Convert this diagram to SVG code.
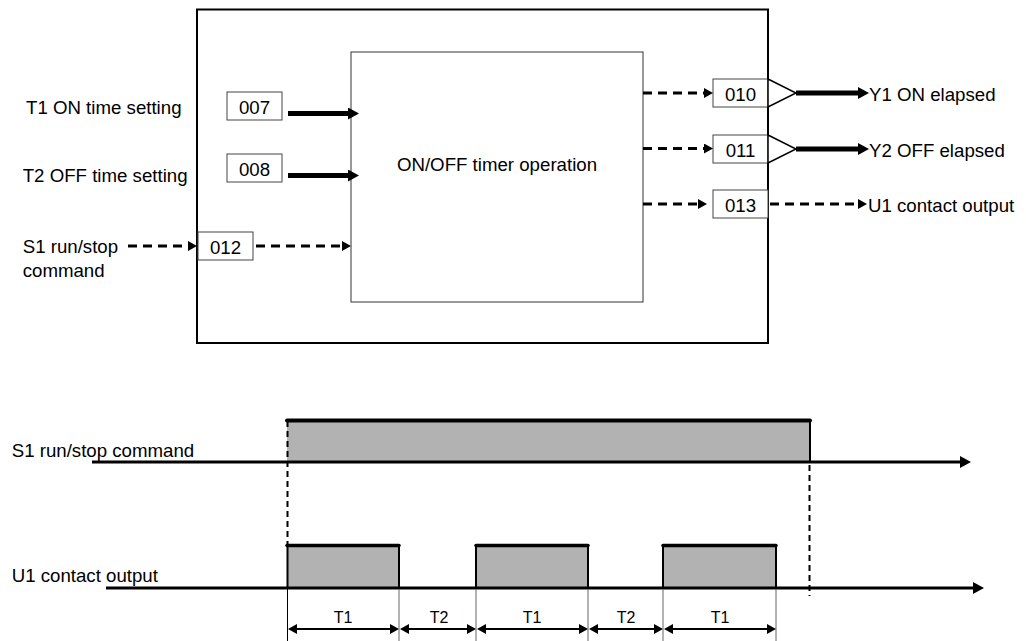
<svg xmlns="http://www.w3.org/2000/svg" width="1026" height="641" viewBox="0 0 1026 641">
<style>
text{font-family:"Liberation Sans",Arial,sans-serif;font-size:18.67px;fill:#000}
.mid{text-anchor:middle}
.tl{font-size:16px;text-anchor:middle}
.box{fill:#fff;stroke:#444;stroke-width:1}
.thick{stroke:#000;stroke-width:5;fill:none}
.dash{stroke:#000;stroke-width:3;stroke-dasharray:9 6;fill:none}
.axis{stroke:#000;stroke-width:3;fill:none}
.pulse{fill:#b2b2b2;stroke:none}
.top{stroke:#000;stroke-width:4;stroke-linecap:round}
.edge{stroke:#000;stroke-width:2}
.vdash{stroke:#000;stroke-width:2;stroke-dasharray:6 4}
.ext{stroke:#666;stroke-width:1}
.dim{stroke:#000;stroke-width:2}
</style>
<defs>
<marker id="ahB" markerUnits="userSpaceOnUse" markerWidth="11" markerHeight="12" refX="0" refY="6" orient="auto"><path d="M0,0 L11,6 L0,12 z" fill="#000"/></marker>
<marker id="ahS" markerUnits="userSpaceOnUse" markerWidth="9" markerHeight="10" refX="0" refY="5" orient="auto"><path d="M0,0 L9,5 L0,10 z" fill="#000"/></marker>
<marker id="ahA" markerUnits="userSpaceOnUse" markerWidth="11" markerHeight="12" refX="0" refY="6" orient="auto"><path d="M0,0 L11,6 L0,12 z" fill="#000"/></marker>
<marker id="dimE" markerUnits="userSpaceOnUse" markerWidth="9" markerHeight="10" refX="0" refY="5" orient="auto"><path d="M0,0 L9,5 L0,10 z" fill="#000"/></marker>
<marker id="dimS" markerUnits="userSpaceOnUse" markerWidth="9" markerHeight="10" refX="9" refY="5" orient="auto"><path d="M9,0 L0,5 L9,10 z" fill="#000"/></marker>
</defs>

<g id="outer-block">
<rect x="197" y="9.5" width="571" height="333.5" fill="#fff" stroke="#000" stroke-width="2"/>
</g>
<g id="timer-operation">
<rect x="351" y="52" width="292" height="250" fill="#fff" stroke="#333" stroke-width="1"/>
<text class="mid" x="497" y="170.5">ON/OFF timer operation</text>
</g>

<g id="input-labels">
<text x="26" y="114">T1 ON time setting</text>
<text x="22.7" y="182">T2 OFF time setting</text>
<text x="22.7" y="253">S1 run/stop</text>
<text x="22.7" y="276.5">command</text>
</g>

<g id="node-007"><rect class="box" x="227" y="92" width="55" height="28"/><text class="mid" x="254.5" y="113.5">007</text></g>
<g id="node-008"><rect class="box" x="227" y="154" width="55" height="28"/><text class="mid" x="254.5" y="175.5">008</text></g>
<g id="node-012"><rect class="box" x="198" y="232" width="55" height="28"/><text class="mid" x="225.5" y="253.5">012</text></g>
<g id="node-010"><rect class="box" x="713" y="79" width="55" height="28"/><text class="mid" x="740.5" y="100.5">010</text>
<polygon points="768,79 796,93 768,107" fill="#fff" stroke="#000" stroke-width="1.5"/></g>
<g id="node-011"><rect class="box" x="713" y="135" width="55" height="28"/><text class="mid" x="740.5" y="156.5">011</text>
<polygon points="768,135 796,149 768,163" fill="#fff" stroke="#000" stroke-width="1.5"/></g>
<g id="node-013"><rect class="box" x="713" y="190" width="55" height="28"/><text class="mid" x="740.5" y="212">013</text></g>

<g id="output-labels">
<text x="869" y="100.5">Y1 ON elapsed</text>
<text x="869" y="156.5">Y2 OFF elapsed</text>
<text x="868" y="212">U1 contact output</text>
</g>

<g id="connectors">
<line class="thick" x1="288" y1="113.5" x2="348" y2="113.5" marker-end="url(#ahB)"/>
<line class="thick" x1="288" y1="175.5" x2="348" y2="175.5" marker-end="url(#ahB)"/>
<line class="dash" x1="128" y1="246" x2="188" y2="246" marker-end="url(#ahS)"/>
<line class="dash" x1="256" y1="246" x2="342" y2="246" marker-end="url(#ahS)"/>
<line class="dash" x1="643" y1="93" x2="704" y2="93" marker-end="url(#ahS)"/>
<line class="dash" x1="643" y1="148.5" x2="704" y2="148.5" marker-end="url(#ahS)"/>
<line class="dash" x1="643" y1="204" x2="698" y2="204" marker-end="url(#ahS)"/>
<line class="thick" x1="796" y1="93" x2="858" y2="93" marker-end="url(#ahB)"/>
<line class="thick" x1="796" y1="149" x2="858" y2="149" marker-end="url(#ahB)"/>
<line class="dash" x1="770" y1="204" x2="858" y2="204" marker-end="url(#ahS)"/>
</g>

<g id="timing-chart">
<text x="11.7" y="457">S1 run/stop command</text>
<text x="11.7" y="582">U1 contact output</text>

<rect class="pulse" x="287" y="420.5" width="523" height="41.5"/>
<rect class="pulse" x="287" y="545.5" width="112" height="42.5"/>
<rect class="pulse" x="476" y="545.5" width="112" height="42.5"/>
<rect class="pulse" x="663" y="545.5" width="113" height="42.5"/>

<line class="axis" x1="92" y1="462" x2="960" y2="462" marker-end="url(#ahA)"/>
<line class="axis" x1="106" y1="588" x2="973" y2="588" marker-end="url(#ahA)"/>

<line class="top" x1="287" y1="420.5" x2="810" y2="420.5"/>
<line class="edge" x1="810" y1="420.5" x2="810" y2="462"/>
<line class="vdash" x1="287.5" y1="421" x2="287.5" y2="545"/>
<line class="vdash" x1="809.5" y1="465" x2="809.5" y2="596"/>

<line class="top" x1="287" y1="545.5" x2="399" y2="545.5" style="stroke-width:3.5"/>
<line class="top" x1="476" y1="545.5" x2="588" y2="545.5" style="stroke-width:3.5"/>
<line class="top" x1="663" y1="545.5" x2="776" y2="545.5" style="stroke-width:3.5"/>
<line class="edge" x1="287.5" y1="545.5" x2="287.5" y2="588"/>
<line class="edge" x1="399" y1="545.5" x2="399" y2="588"/>
<line class="edge" x1="476" y1="545.5" x2="476" y2="588"/>
<line class="edge" x1="588" y1="545.5" x2="588" y2="588"/>
<line class="edge" x1="663" y1="545.5" x2="663" y2="588"/>
<line class="edge" x1="776" y1="545.5" x2="776" y2="588"/>

<line class="ext" x1="287.5" y1="589" x2="287.5" y2="641" style="stroke:#000"/>
<line class="ext" x1="399" y1="589" x2="399" y2="641"/>
<line class="ext" x1="476" y1="589" x2="476" y2="641"/>
<line class="ext" x1="588" y1="589" x2="588" y2="641"/>
<line class="ext" x1="663" y1="589" x2="663" y2="641"/>
<line class="ext" x1="776" y1="589" x2="776" y2="641"/>

<line class="dim" x1="297" y1="629" x2="390" y2="629" marker-start="url(#dimS)" marker-end="url(#dimE)"/>
<line class="dim" x1="409" y1="629" x2="467" y2="629" marker-start="url(#dimS)" marker-end="url(#dimE)"/>
<line class="dim" x1="486" y1="629" x2="579" y2="629" marker-start="url(#dimS)" marker-end="url(#dimE)"/>
<line class="dim" x1="598" y1="629" x2="654" y2="629" marker-start="url(#dimS)" marker-end="url(#dimE)"/>
<line class="dim" x1="673" y1="629" x2="767" y2="629" marker-start="url(#dimS)" marker-end="url(#dimE)"/>

<text class="tl" x="343" y="623">T1</text>
<text class="tl" x="439" y="623">T2</text>
<text class="tl" x="532" y="623">T1</text>
<text class="tl" x="626" y="623">T2</text>
<text class="tl" x="720" y="623">T1</text>
</g>
</svg>
